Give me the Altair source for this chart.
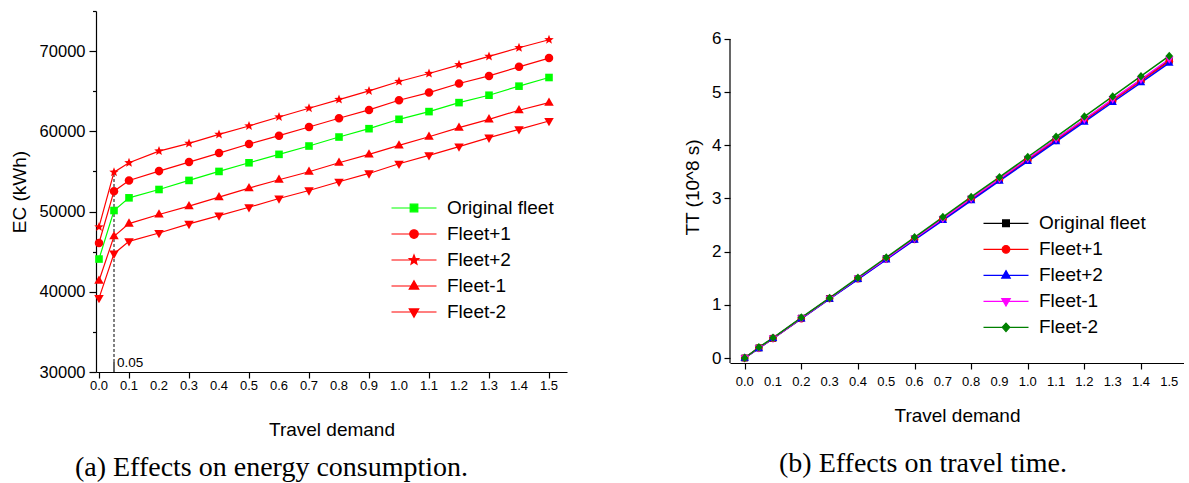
import math

import altair as alt
import pandas as pd

# ---------------------------------------------------------------- data
demand = [0.0, 0.05, 0.1, 0.2, 0.3, 0.4, 0.5, 0.6, 0.7, 0.8, 0.9,
          1.0, 1.1, 1.2, 1.3, 1.4, 1.5]
series = ["Original fleet", "Fleet+1", "Fleet+2", "Fleet-1", "Fleet-2"]

# energy consumption (kWh)
ec_original = [44080, 50130, 51710, 52750, 53880, 55000, 56080, 57130, 58170,
               59290, 60330, 61500, 62460, 63580, 64500, 65630, 66710]
ec_fleet_p1 = [46080, 52540, 53880, 55040, 56170, 57290, 58420, 59460, 60540,
               61630, 62670, 63880, 64830, 65960, 66910, 68040, 69130]
ec_fleet_p2 = [48080, 54910, 56080, 57540, 58500, 59620, 60670, 61790, 62880,
               63960, 65040, 66210, 67210, 68290, 69340, 70420, 71420]
ec_fleet_m1 = [41380, 46920, 48500, 49630, 50670, 51790, 52920, 53960, 54960,
               56080, 57130, 58250, 59330, 60460, 61500, 62630, 63580]
ec_fleet_m2 = [39210, 44750, 46290, 47330, 48460, 49500, 50540, 51630, 52630,
               53710, 54750, 55960, 57000, 58090, 59210, 60250, 61290]

# travel time (10^8 s)
tt_original = [0.0, 0.19, 0.37, 0.75, 1.12, 1.49, 1.87, 2.24, 2.61, 2.99, 3.36,
               3.73, 4.11, 4.48, 4.85, 5.23, 5.60]
tt_fleet_p1 = [0.0, 0.19, 0.37, 0.74, 1.12, 1.49, 1.86, 2.23, 2.61, 2.98, 3.35,
               3.72, 4.09, 4.47, 4.84, 5.21, 5.58]
tt_fleet_p2 = [0.0, 0.18, 0.37, 0.74, 1.11, 1.48, 1.85, 2.22, 2.59, 2.96, 3.33,
               3.70, 4.07, 4.44, 4.81, 5.18, 5.55]
tt_fleet_m1 = [0.0, 0.19, 0.37, 0.75, 1.12, 1.50, 1.87, 2.25, 2.62, 3.00, 3.37,
               3.75, 4.12, 4.49, 4.87, 5.24, 5.62]
tt_fleet_m2 = [0.0, 0.20, 0.38, 0.76, 1.13, 1.51, 1.89, 2.27, 2.65, 3.03, 3.40,
               3.78, 4.16, 4.54, 4.92, 5.30, 5.68]

ec_colors = ["#00ff00", "#ff0000", "#ff0000", "#ff0000", "#ff0000"]
tt_colors = ["#000000", "#ff0000", "#0000ff", "#ff00ff", "#008000"]

marker_demand = 0.05          # highlighted demand level
ec_x_domain = [-0.01, 1.56]
ec_y_domain = [30000, 75000]
tt_x_domain = [-0.052, 1.552]
tt_y_domain = [-0.094, 6.526]
tt_y_axis_top = 6

# tick positions and labelled demand levels
x_label_values = [0.0, 0.1, 0.2, 0.3, 0.4, 0.5, 0.6, 0.7, 0.8, 0.9,
                  1.0, 1.1, 1.2, 1.3, 1.4, 1.5]
ec_x_ticks = x_label_values + [marker_demand]
ec_y_ticks = [30000, 35000, 40000, 45000, 50000, 55000, 60000, 65000, 70000, 75000]
tt_x_ticks = [round(i * 0.05, 2) for i in range(31)]
tt_y_ticks = [i * 0.5 for i in range(13)]

EC_W, EC_H = 471, 361
TT_W, TT_H = 454, 352


def long_table(columns):
    rows = []
    for k, (name, vals) in enumerate(zip(series, columns)):
        for x, v in zip(demand, vals):
            rows.append({"series": name, "k": k, "demand": x, "value": v})
    return pd.DataFrame(rows)


ec_df = long_table([ec_original, ec_fleet_p1, ec_fleet_p2, ec_fleet_m1, ec_fleet_m2])
tt_df = long_table([tt_original, tt_fleet_p1, tt_fleet_p2, tt_fleet_m1, tt_fleet_m2])
one_row = pd.DataFrame({"n": [0]})   # single datum for annotation marks
x_labels_df = pd.DataFrame({"demand": x_label_values,
                            "text": [f"{v:.1f}" for v in x_label_values]})


# ---------------------------------------------------------------- symbols
def polygon(pts, k=1.0):
    return "M" + "L".join(f"{x * k:.3f},{y * k:.3f}" for x, y in pts) + "Z"


def circle(r, k=1.0):
    r = r * k
    return (f"M{-r:.3f},0A{r:.3f},{r:.3f},0,1,1,{r:.3f},0"
            f"A{r:.3f},{r:.3f},0,1,1,{-r:.3f},0Z")


def star_points(outer=1.05, inner=0.45):
    pts = []
    for i in range(10):
        a = -math.pi / 2 + i * math.pi / 5
        r = outer if i % 2 == 0 else inner
        pts.append((r * math.cos(a), r * math.sin(a)))
    return pts


SHAPES = {
    "square": lambda k: polygon([(-0.8, -0.8), (0.8, -0.8), (0.8, 0.8), (-0.8, 0.8)], k),
    "circle": lambda k: circle(0.9, k),
    "star": lambda k: polygon(star_points(), k),
    "up": lambda k: polygon([(0, -1.1), (1.0, 0.65), (-1.0, 0.65)], k),
    "down": lambda k: polygon([(0, 1.1), (1.0, -0.65), (-1.0, -0.65)], k),
    "diamond": lambda k: polygon([(0, -1.0), (0.9, 0), (0, 1.0), (-0.9, 0)], k),
}

LEGEND_LINE = "M-4.5,0H4.5"   # symbol size 100 -> 5 px per unit -> 45 px sample line

ec_shape_names = ["square", "circle", "star", "up", "down"]
tt_shape_names = ["square", "circle", "up", "down", "diamond"]

ec_marker_paths = [SHAPES[s](1.0) for s in ec_shape_names]
tt_marker_paths = [SHAPES[s](1.0) for s in tt_shape_names]
ec_legend_paths = [LEGEND_LINE + SHAPES[s](0.95) for s in ec_shape_names]
tt_legend_paths = [LEGEND_LINE + SHAPES[s](0.85) for s in tt_shape_names]

SANS = "Liberation Sans"
SERIF = "Liberation Serif"


def caption(text, dx, offset):
    return alt.TitleParams(text, orient="bottom", anchor="middle", frame="group",
                           font=SERIF, fontSize=28, fontWeight="normal",
                           color="black", dx=dx, offset=offset)


def colour_lookup(colors):
    names = ",".join(f"'{n}'" for n in series)
    cols = ",".join(f"'{c}'" for c in colors)
    return alt.ExprRef(expr=f"[{cols}][indexof([{names}], datum.value)]")


def series_legend(lx, ly, colors):
    return alt.Legend(title=None, orient="none", legendX=lx, legendY=ly,
                      labelFont=SANS, labelFontSize=19, labelColor="black",
                      symbolSize=100, symbolStrokeWidth=1.2, rowPadding=6,
                      symbolFillColor=colour_lookup(colors),
                      symbolStrokeColor=colour_lookup(colors),
                      labelOffset=23.5, padding=0, labelLimit=300)


def build_panel(df, x, y, colors, marker_paths, legend_paths, legend,
                point_size, line_width):
    color_scale = alt.Scale(domain=series, range=colors)

    lines = alt.Chart(df).mark_line(strokeWidth=line_width).encode(
        x=x, y=y,
        color=alt.Color("series:N", scale=color_scale, legend=None),
        detail="k:O",
    )
    points = alt.Chart(df).mark_point(filled=True, opacity=1, size=point_size).encode(
        x=x, y=y,
        color=alt.Color("series:N", scale=color_scale, legend=None),
        shape=alt.Shape("series:N", scale=alt.Scale(domain=series, range=marker_paths),
                        legend=None),
    )
    # empty layer that only carries the line-and-marker legend
    key = alt.Chart(df).transform_filter("false").mark_point(
        filled=True, opacity=1, size=100, strokeWidth=1.2
    ).encode(
        x=x, y=y,
        fill=alt.Fill("series:N", scale=color_scale, legend=legend),
        stroke=alt.Stroke("series:N", scale=color_scale, legend=legend),
        shape=alt.Shape("series:N", scale=alt.Scale(domain=series, range=legend_paths),
                        legend=legend),
    )
    return lines, points, key


def tick_size(test, major, minor):
    return {"condition": {"test": test, "value": major}, "value": minor}


axis_style = dict(domainColor="black", tickColor="black", labelColor="black",
                  titleColor="black", domainWidth=1.2, tickWidth=1.2,
                  labelFont=SANS, titleFont=SANS, titleFontWeight="normal",
                  grid=False, labelOverlap=False, labelFlush=False)


def x_tick_labels(x_field, y_px):
    return alt.Chart(x_labels_df).mark_text(
        baseline="top", align="center", font=SANS, fontSize=13, color="black"
    ).encode(x=x_field, y=alt.value(y_px), text="text:N")


# ---------------------------------------------------------------- panel (a)
ec_x_axis = alt.Axis(title="Travel demand", values=ec_x_ticks, labels=False,
                     titleFontSize=19, tickSize=6, titlePadding=42, **axis_style)
ec_y_axis = alt.Axis(title="EC (kWh)", values=ec_y_ticks, format="d",
                     labelExpr="datum.value % 10000 === 0 && datum.value < 75000 ? datum.label : ''",
                     tickSize=tick_size("datum.value % 10000 === 0 && datum.value < 75000", 7, 3.5),
                     labelFontSize=16.5, titleFontSize=19, labelPadding=4,
                     titlePadding=10, **axis_style)

ec_x = alt.X("demand:Q", scale=alt.Scale(domain=ec_x_domain, nice=False, zero=False),
             axis=ec_x_axis)
ec_y = alt.Y("value:Q", scale=alt.Scale(domain=ec_y_domain, nice=False, zero=False),
             axis=ec_y_axis)

ec_lines, ec_points, ec_key = build_panel(
    ec_df, ec_x, ec_y, ec_colors, ec_marker_paths, ec_legend_paths,
    series_legend(308.5, 187.5, ec_colors), 90, 1.2)

guide_split = 31250   # where the dashed guide turns into a solid stub
guide_top = ec_fleet_p2[demand.index(marker_demand)]

guide_dashed = alt.Chart(one_row).mark_rule(color="black", strokeWidth=1, strokeDash=[3, 2]).encode(
    x=alt.datum(marker_demand), y=alt.datum(guide_split), y2=alt.datum(guide_top))
guide_solid = alt.Chart(one_row).mark_rule(color="black", strokeWidth=1.2).encode(
    x=alt.datum(marker_demand), y=alt.datum(ec_y_domain[0]), y2=alt.datum(guide_split))
guide_label = alt.Chart(one_row).mark_text(
    align="left", baseline="alphabetic", dx=3, font=SANS, fontSize=13.5, color="black"
).encode(x=alt.datum(marker_demand), y=alt.datum(30600), text=alt.value(f"{marker_demand}"))

panel_a = alt.layer(
    guide_dashed, guide_solid, guide_label, ec_lines, ec_points, ec_key,
    x_tick_labels(ec_x, EC_H + 8),
).resolve_scale(shape="independent").properties(
    width=EC_W, height=EC_H,
    title=caption("(a) Effects on energy consumption.", -60, 14),
)

# ---------------------------------------------------------------- panel (b)
tt_x_axis = alt.Axis(title="Travel demand", values=tt_x_ticks, labels=False,
                     tickSize=tick_size("abs(datum.value * 10 - round(datum.value * 10)) < 1e-6", 6, 3),
                     titleFontSize=19, titlePadding=37, **axis_style)
tt_y_axis = alt.Axis(title="TT (10^8 s)", values=tt_y_ticks, format="d",
                     labelExpr="datum.value % 1 === 0 ? datum.label : ''",
                     tickSize=tick_size("datum.value % 1 === 0", 6, 3),
                     labelFontSize=17, titleFontSize=19, labelPadding=3,
                     titlePadding=9, domain=False, **axis_style)

tt_x = alt.X("demand:Q", scale=alt.Scale(domain=tt_x_domain, nice=False, zero=False),
             axis=tt_x_axis)
tt_y = alt.Y("value:Q", scale=alt.Scale(domain=tt_y_domain, nice=False, zero=False),
             axis=tt_y_axis)

tt_lines, tt_points, tt_key = build_panel(
    tt_df, tt_x, tt_y, tt_colors, tt_marker_paths, tt_legend_paths,
    series_legend(266.5, 202.8, tt_colors), 72, 1.5)

tt_axis_line = alt.Chart(one_row).mark_rule(color="black", strokeWidth=1.2).encode(
    x=alt.datum(tt_x_domain[0]), y=alt.datum(tt_y_domain[0]), y2=alt.datum(tt_y_axis_top))

panel_b = alt.layer(
    tt_axis_line, tt_lines, tt_points, tt_key,
    x_tick_labels(tt_x, TT_H + 13),
).resolve_scale(shape="independent").properties(
    width=TT_W, height=TT_H,
    title=caption("(b) Effects on travel time.", -34, 24),
)

chart = alt.hconcat(panel_a, panel_b, spacing=163, bounds="flush").resolve_scale(
    color="independent", fill="independent", stroke="independent", shape="independent"
).properties(
    padding={"left": 10, "top": 3, "right": 0, "bottom": 0},
    background="white",
).configure_view(stroke=None)

chart.save("out.html", embed_options={"renderer": "svg", "actions": False})
